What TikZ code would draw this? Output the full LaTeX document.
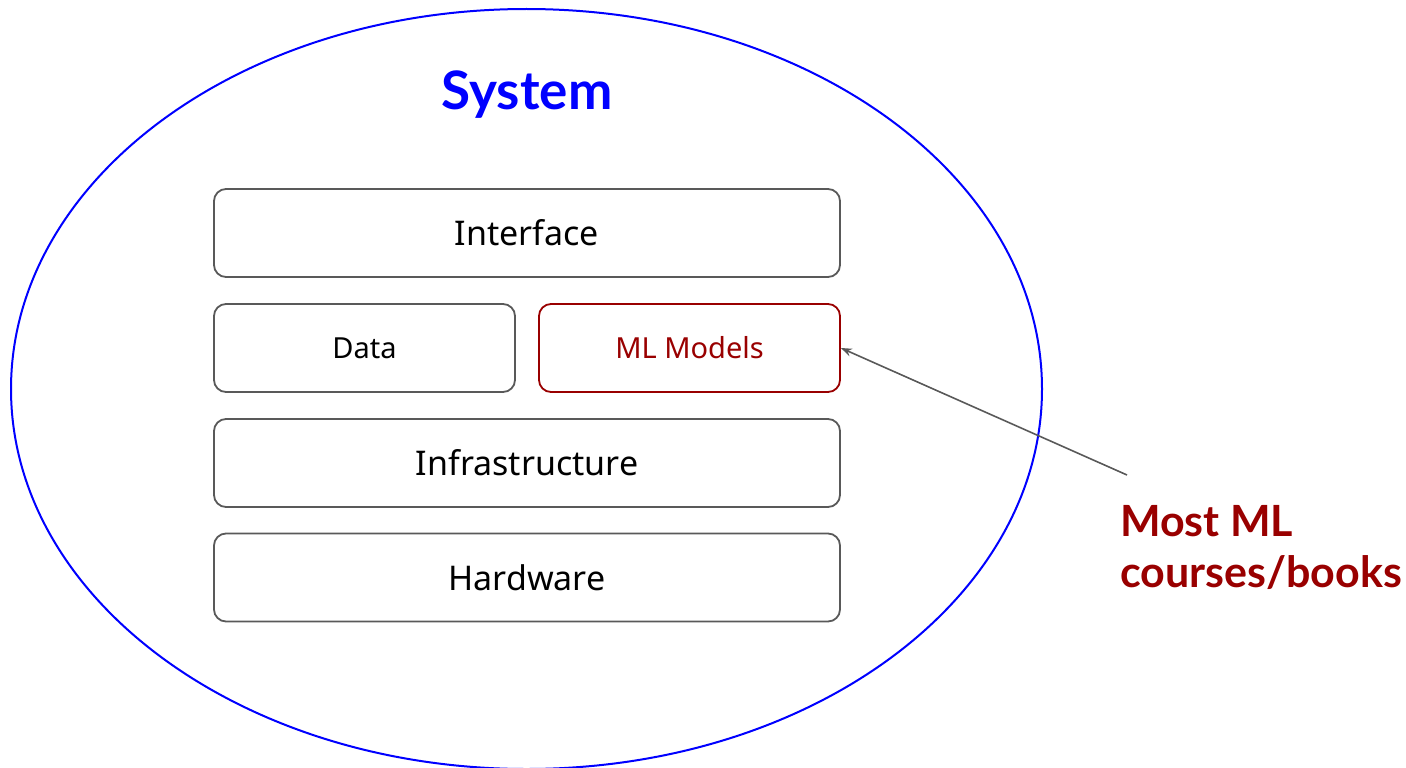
\documentclass[tikz,border=0pt]{standalone}
\usepackage{fontspec}
\setmainfont{Noto Sans}
\newfontfamily\headfont{Lato}
\usetikzlibrary{arrows.meta}
\definecolor{edgegray}{HTML}{595959}
\definecolor{darkred}{HTML}{990000}
\definecolor{sysblue}{HTML}{0000FF}
\begin{document}
\begin{tikzpicture}[x=1pt,y=-1pt,
  layer/.style={draw=edgegray, line width=1.8pt, rounded corners=12pt, fill=white,
    inner sep=0pt, font=\fontsize{34}{40}\selectfont},
  smalllayer/.style={layer, font=\fontsize{29}{34}\selectfont},
  pointer/.style={draw=edgegray, line width=1.6pt, -{Stealth[length=11pt,width=8pt]}}]
\useasboundingbox (0,0) rectangle (1406,768);
\draw[sysblue, line width=2pt] (526.5,389) ellipse [x radius=515.5, y radius=380];
\node[font=\headfont\bfseries\fontsize{53}{58}\selectfont, text=sysblue] (sys) at (527,95) {System};
\node[layer, minimum width=626pt, minimum height=88pt] (iface) at (527,233) {Interface};
\node[smalllayer, minimum width=301pt, minimum height=88pt] (data) at (364.5,348) {Data};
\node[smalllayer, draw=darkred, text=darkred, minimum width=301pt, minimum height=88pt] (ml) at (689.5,348) {ML Models};
\node[layer, minimum width=626pt, minimum height=88pt] (infra) at (527,463) {Infrastructure};
\node[layer, minimum width=626pt, minimum height=88pt] (hw) at (527,577.5) {Hardware};
\node[font=\headfont\bfseries\fontsize{43}{51}\selectfont, text=darkred, align=left, anchor=north west, inner sep=0pt] (note) at (1120,505) {Most ML\\courses/books};
\coordinate (tail) at (1127,475);
\draw[pointer] (tail) -- (ml.east);
\end{tikzpicture}
\end{document}
